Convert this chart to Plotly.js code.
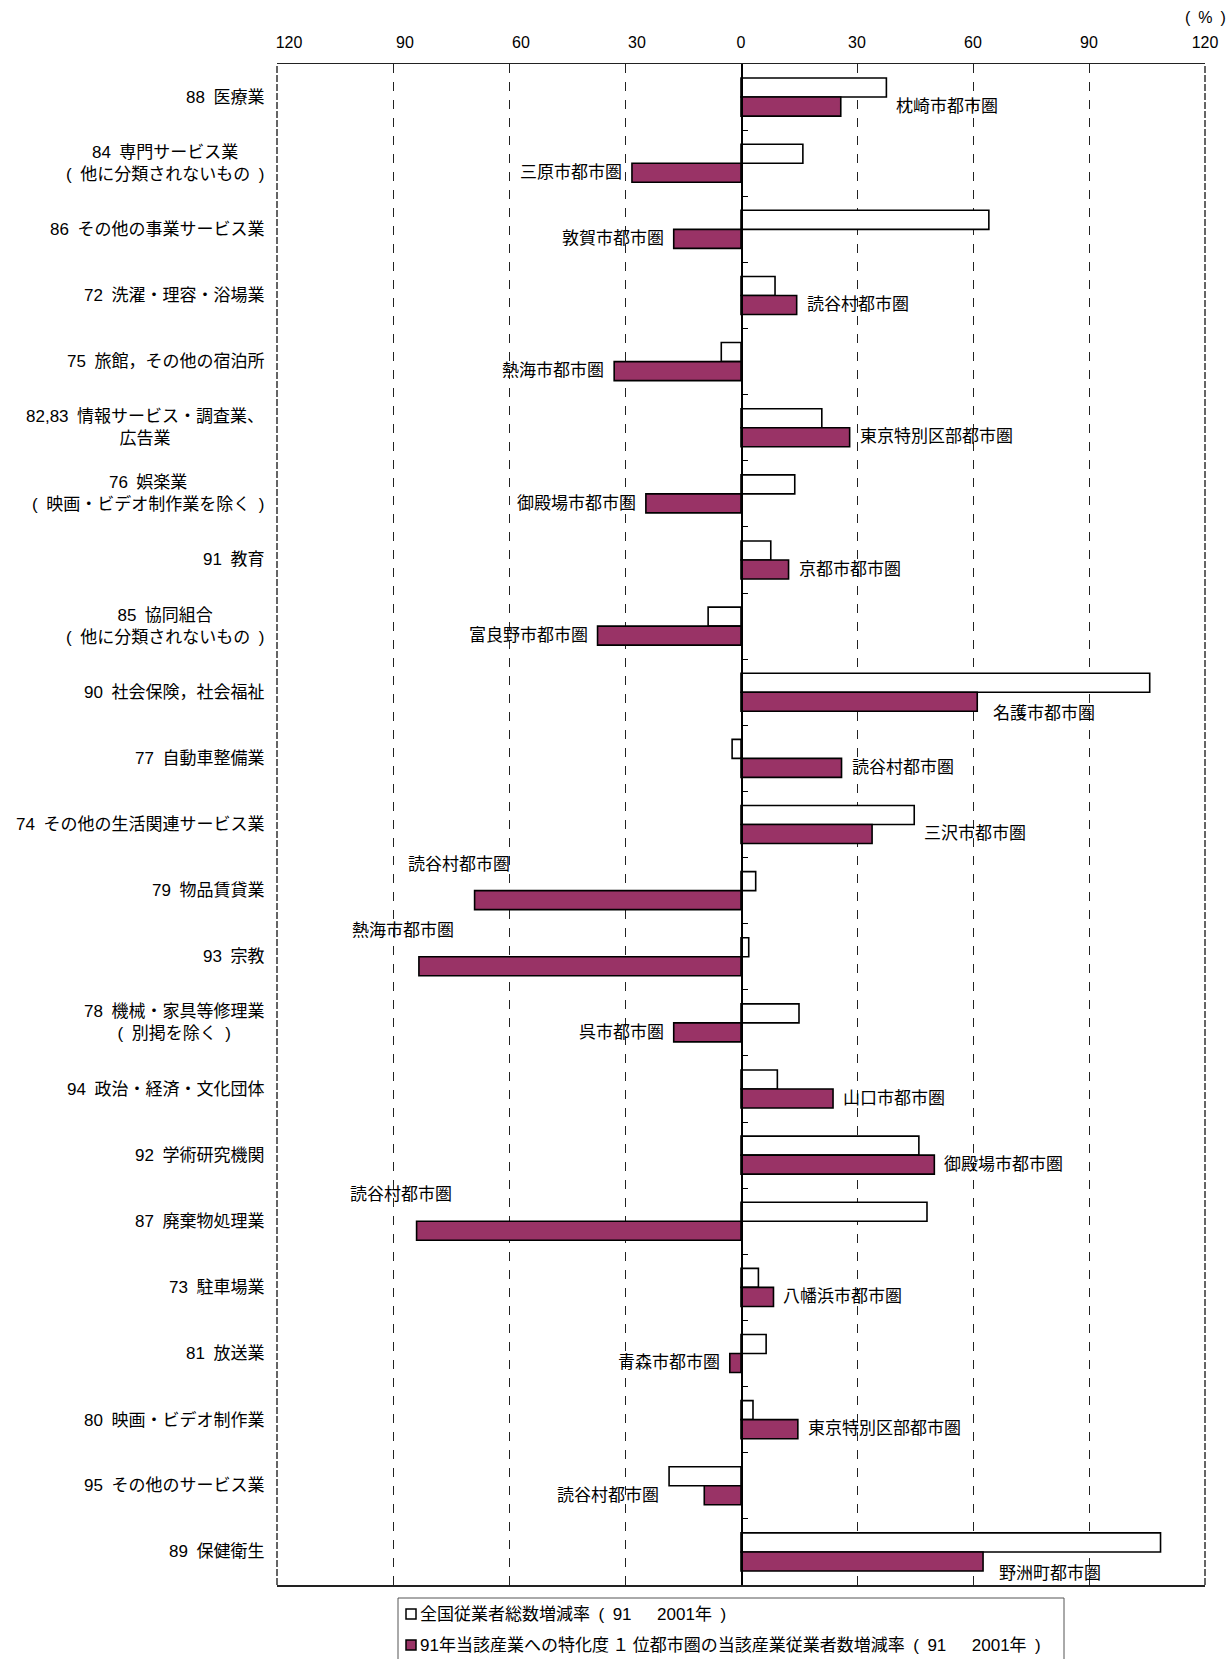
<!DOCTYPE html>
<html>
<head>
<meta charset="utf-8">
<script src="https://cdn.plot.ly/plotly-3.0.1.min.js"></script>
<style>html,body{margin:0;padding:0;background:#fff;}</style>
</head>
<body>
<div id="chart" style="width:1232px;height:1659px;"></div>
<script>
// ---- data ----
const categories = [
  "88\u2002医療業",
  "84\u2002専門サービス業<br>(\u2002他に分類されないもの\u2002)",
  "86\u2002その他の事業サービス業",
  "72\u2002洗濯・理容・浴場業",
  "75\u2002旅館，その他の宿泊所",
  "82,83\u2002情報サービス・調査業、<br>広告業",
  "76\u2002娯楽業<br>(\u2002映画・ビデオ制作業を除く\u2002)",
  "91\u2002教育",
  "85\u2002協同組合<br>(\u2002他に分類されないもの\u2002)",
  "90\u2002社会保険，社会福祉",
  "77\u2002自動車整備業",
  "74\u2002その他の生活関連サービス業",
  "79\u2002物品賃貸業",
  "93\u2002宗教",
  "78\u2002機械・家具等修理業<br>(\u2002別掲を除く\u2002)",
  "94\u2002政治・経済・文化団体",
  "92\u2002学術研究機関",
  "87\u2002廃棄物処理業",
  "73\u2002駐車場業",
  "81\u2002放送業",
  "80\u2002映画・ビデオ制作業",
  "95\u2002その他のサービス業",
  "89\u2002保健衛生"
];
const nationalRate = [37.6, 16.0, 64.1, 8.8, -5.1, 20.9, 13.9, 7.7, -8.5, 105.7, -2.3, 44.8, 3.8, 2.0, 15.0, 9.4, 46.0, 48.1, 4.5, 6.5, 3.1, -18.6, 108.5];
const topAreaRate = [25.8, -28.2, -17.4, 14.4, -32.8, 28.1, -24.6, 12.3, -37.1, 61.1, 26.0, 33.9, -68.9, -83.3, -17.4, 23.8, 50.0, -83.9, 8.4, -2.9, 14.7, -9.5, 62.6];
const topAreaNames = [
  "枕崎市都市圏", "三原市都市圏", "敦賀市都市圏", "読谷村都市圏", "熱海市都市圏",
  "東京特別区部都市圏", "御殿場市都市圏", "京都市都市圏", "富良野市都市圏", "名護市都市圏",
  "読谷村都市圏", "三沢市都市圏", "読谷村都市圏", "熱海市都市圏", "呉市都市圏",
  "山口市都市圏", "御殿場市都市圏", "読谷村都市圏", "八幡浜市都市圏", "青森市都市圏",
  "東京特別区部都市圏", "読谷村都市圏", "野洲町都市圏"
];
const seriesNames = [
  "全国従業者総数増減率\u2002(\u200291\u3000\u20022001年\u2002)",
  "91年当該産業への特化度\u2009１\u2009位都市圏の当該産業従業者数増減率\u2002(\u200291\u3000\u20022001年\u2002)"
];
const xTickValues = [-120, -90, -60, -30, 0, 30, 60, 90, 120];
const xTickText = ["120", "90", "60", "30", "0", "30", "60", "90", "120"];
const unitLabel = "(\u2002%\u2002)";

// ---- label placement (style) ----
const labelPlacement = ["right","left","left","right","left","right","left","right","left","below",
  "right","right","above","above","left","right","right","above","right","left","right","left","below"];

// ---- build ----
const W = 1232, H = 1659;
const M = {l:277, r:27, t:64, b:74};
const FONT = "'Liberation Sans', 'Noto Sans CJK JP', sans-serif";
const PURPLE = "#993366";
const seriesColors = ["#ffffff", PURPLE];
const rows = categories.map((_, i) => i);
const tickTextShown = xTickValues.map((v, i) => v < 0 ? "\u2003\u2002" + xTickText[i] : xTickText[i]);

const traces = [nationalRate, topAreaRate].map((vals, k) => ({
  type:"bar", orientation:"h", y: rows, x: vals, name: seriesNames[k],
  marker:{color:seriesColors[k], line:{color:"#000000", width:1.6}}, hoverinfo:"skip", showlegend:false
}));

const annotations = [];
categories.forEach((c, i) => {
  annotations.push({xref:"paper", x:0, xanchor:"right", xshift:-11, yref:"y", y:i, yanchor:"middle",
    text:c, showarrow:false, align:"center", font:{family:FONT, size:17, color:"#000"}});
});
topAreaNames.forEach((name, i) => {
  const n = nationalRate[i], p = topAreaRate[i], pl = labelPlacement[i];
  const a = {xref:"x", yref:"y", text:name, showarrow:false, font:{family:FONT, size:17, color:"#000"}, yanchor:"middle"};
  if (pl === "right") { a.x = Math.max(n, p, 0); a.xanchor = "left"; a.xshift = 8; a.y = i + 0.14; }
  else if (pl === "left") { a.x = Math.min(n, p, 0); a.xanchor = "right"; a.xshift = -8; a.y = i + 0.14; }
  else if (pl === "below") { a.x = p; a.xanchor = "left"; a.xshift = 14; a.y = i + 0.14; a.yshift = -12; }
  else { a.x = p; a.xanchor = "center"; a.xshift = -16; a.y = i - 0.4; }
  annotations.push(a);
});
annotations.push({xref:"paper", x:1, xanchor:"center", yref:"paper", y:1, yanchor:"middle", yshift:47,
  text:unitLabel, showarrow:false, font:{family:FONT, size:16, color:"#000"}});

// ---- legend box drawn in paper space (pixel helpers) ----
const pw = W - M.l - M.r, ph = H - M.t - M.b;
const px = v => (v - M.l) / pw;
const py = v => 1 - (v - M.t) / ph;
const shapes = [
  {type:"line", xref:"paper", yref:"paper", x0:0, x1:0, y0:0, y1:1, line:{color:"#333", width:1.5, dash:"7px,2px"}, layer:"above"},
  {type:"line", xref:"paper", yref:"paper", x0:1, x1:1, y0:0, y1:1, line:{color:"#333", width:1.5, dash:"7px,2px"}, layer:"above"},
  {type:"rect", xref:"paper", yref:"paper", x0:px(398), x1:px(1064), y0:py(1598), y1:py(1675),
   line:{color:"#555", width:1}, fillcolor:"rgba(0,0,0,0)"}
];
seriesNames.forEach((name, k) => {
  const cy = 1614 + k * 31;
  shapes.push({type:"rect", xref:"paper", yref:"paper", x0:px(406), x1:px(416), y0:py(cy - 5), y1:py(cy + 5),
    line:{color:"#000", width:1.5}, fillcolor:seriesColors[k]});
  annotations.push({xref:"paper", yref:"paper", x:px(418), y:py(cy), xanchor:"left", yanchor:"middle",
    text:name, showarrow:false, font:{family:FONT, size:17, color:"#000"}});
});

const boundaries = [];
for (let i = 0; i <= categories.length; i++) boundaries.push(i - 0.5);

const layout = {
  width:W, height:H,
  margin:{l:M.l, r:M.r, t:M.t, b:M.b, pad:0},
  paper_bgcolor:"#ffffff", plot_bgcolor:"#ffffff",
  font:{family:FONT, size:16, color:"#000"},
  barmode:"group", bargap:0.425, bargroupgap:0,
  showlegend:false,
  xaxis:{range:[-120,120], side:"top", tickmode:"array", tickvals:xTickValues, ticktext:tickTextShown,
    showgrid:true, gridcolor:"#222", griddash:"dash", gridwidth:1, zeroline:false,
    showline:true, linecolor:"#222", linewidth:1.5, mirror:true, ticks:"", ticklabelstandoff:8,
    tickfont:{family:FONT, size:16, color:"#000"}, fixedrange:true, automargin:false},
  yaxis:{range:[categories.length - 0.5, -0.5], anchor:"free", position:0.5,
    showline:true, linecolor:"#000", linewidth:1.5, ticks:"inside", ticklen:5, tickwidth:1, tickcolor:"#000",
    tickmode:"array", tickvals:boundaries, showticklabels:false, showgrid:false, zeroline:false, fixedrange:true, automargin:false},
  shapes:shapes,
  annotations:annotations
};

Plotly.newPlot("chart", traces, layout, {staticPlot:true, displayModeBar:false});
</script>
</body>
</html>
